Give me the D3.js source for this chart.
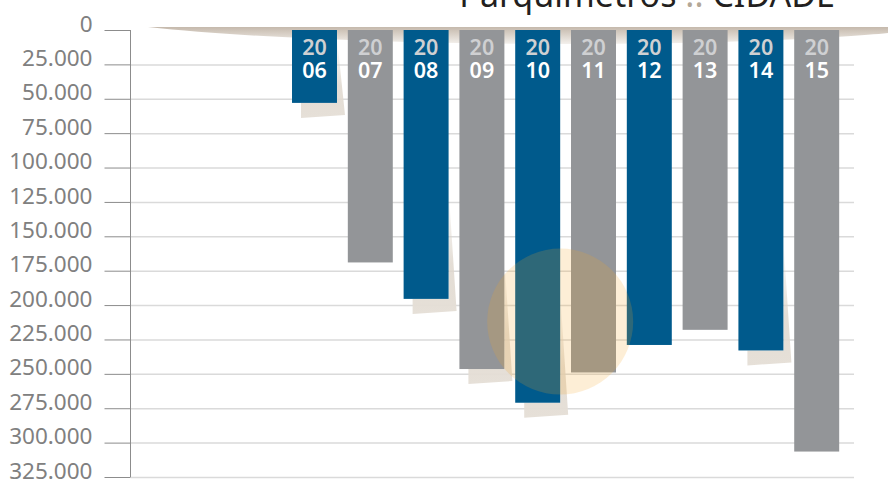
<!DOCTYPE html>
<html>
<head>
<meta charset="utf-8">
<script src="https://cdn.jsdelivr.net/npm/d3@7"></script>
<style>
  body { margin: 0; background: #fff; }
  svg { display: block; font-family: "Noto Sans", sans-serif; }
</style>
</head>
<body>
<div id="vizDiv"></div>
<script>
var width = 888
var height = 480

// data
var years = ["2006", "2007", "2008", "2009", "2010", "2011", "2012", "2013", "2014", "2015"]
var values = [53000, 169000, 195500, 246500, 271000, 249000, 229000, 218000, 233000, 306500]
var shadowYears = ["2006", "2008", "2009", "2010", "2014"]
var tickValues = [0, 25000, 50000, 75000, 100000, 125000, 150000, 175000, 200000, 225000, 250000, 275000, 300000, 325000]
var highlightYear = "2010"
var highlightValue = 212000

var blue = "#005a8c"
var gray = "#939598"

var locale = d3.formatLocale({decimal: ",", thousands: ".", grouping: [3], currency: ["", ""]})
var fmt = locale.format(",")

var svg = d3.select("#vizDiv")
  .append("svg")
  .attr("width", width)
  .attr("height", height)

var defs = svg.append("defs")

var sg = defs.append("linearGradient").attr("id", "barShadow")
  .attr("x1", 0).attr("y1", 0).attr("x2", 0).attr("y2", 1)
sg.append("stop").attr("offset", "0%").attr("stop-color", "#ddd5cb").attr("stop-opacity", 0)
sg.append("stop").attr("offset", "60%").attr("stop-color", "#ddd5cb").attr("stop-opacity", 0.8)
sg.append("stop").attr("offset", "100%").attr("stop-color", "#e6e0d8").attr("stop-opacity", 1)

var tg = defs.append("linearGradient").attr("id", "topShadow")
  .attr("x1", 0).attr("y1", 0).attr("x2", 0).attr("y2", 1)
tg.append("stop").attr("offset", "0%").attr("stop-color", "#c5b9ac")
tg.append("stop").attr("offset", "100%").attr("stop-color", "#f4f1ed")

var y = d3.scaleLinear().domain([0, 325000]).range([30, 477])
var x = d3.scaleBand().domain(years).range([286.6, 844.6]).padding(0.194).paddingOuter(0.097)

var axisX = 130.5
var gridEnd = 854

// gridlines
svg.append("g")
  .attr("transform", "translate(" + axisX + ",0)")
  .call(d3.axisRight(y).tickValues(tickValues.slice(1)).tickSize(gridEnd - axisX).tickFormat(""))
  .call(function(g) { g.select(".domain").remove() })
  .call(function(g) { g.selectAll("line").attr("stroke", "#dadada").attr("stroke-width", 1.5) })

// top curled paper shadow
svg.append("path")
  .attr("d", "M148,27 C250,38 420,45 600,44 C750,43 850,37 888,33 L888,27 Z")
  .attr("fill", "url(#topShadow)")

// y axis
var yAxis = svg.append("g")
  .attr("transform", "translate(" + axisX + ",0)")
  .call(d3.axisLeft(y).tickValues(tickValues).tickSize(26).tickPadding(12).tickFormat(fmt))
yAxis.select(".domain").attr("stroke", "#8c8c8c").attr("d", "M0," + y(0) + "V" + y(325000))
yAxis.selectAll("line").attr("stroke", "#8c8c8c")
yAxis.selectAll("text")
  .attr("fill", "#808080")
  .attr("dy", "0.05em")
  .style("font-size", "22.5px")
  .style("font-family", "'Noto Sans', sans-serif")

// bar shadows
var bars = years.map(function(d, i) { return {year: d, value: values[i], i: i} })

svg.append("g").selectAll("path")
  .data(bars.filter(function(d) { return shadowYears.indexOf(d.year) >= 0 }))
  .join("path")
  .attr("fill", "url(#barShadow)")
  .attr("d", function(d) {
    var x0 = x(d.year), x1 = x0 + x.bandwidth()
    var yb = y(d.value)
    var yt = Math.max(y(0) + 8, yb - 110)
    return "M" + x1 + "," + yt + "L" + (x1 + 8) + "," + (yb + 12) +
      "L" + (x0 + 9) + "," + (yb + 15) + "L" + (x0 + 9) + "," + yb + "L" + x1 + "," + yb + "Z"
  })

// bars
svg.append("g").selectAll("rect")
  .data(bars)
  .join("rect")
  .attr("x", function(d) { return x(d.year) })
  .attr("y", y(0))
  .attr("width", x.bandwidth())
  .attr("height", function(d) { return y(d.value) - y(0) })
  .attr("fill", function(d) { return d.i % 2 == 0 ? blue : gray })

// year labels
var lab = svg.append("g").selectAll("g")
  .data(bars)
  .join("g")
  .attr("transform", function(d) { return "translate(" + (x(d.year) + x.bandwidth() / 2) + ",0)" })
  .attr("text-anchor", "middle")
  .style("font-size", "21.5px")
  .style("font-weight", 600)

lab.append("text")
  .attr("y", y(0) + 25)
  .attr("fill", "#cfd0d2")
  .text(function(d) { return d.year.slice(0, 2) })

lab.append("text")
  .attr("y", y(0) + 48)
  .attr("fill", "#ffffff")
  .text(function(d) { return d.year.slice(2) })

// highlight circle
svg.append("circle")
  .attr("cx", x(highlightYear) + x.bandwidth())
  .attr("cy", y(highlightValue))
  .attr("r", 73)
  .attr("fill", "#f5a623")
  .attr("fill-opacity", 0.19)

// title (cut off at top)
var title = svg.append("text")
  .attr("x", 835)
  .attr("y", 7)
  .attr("text-anchor", "end")
  .style("font-size", "34px")
  .attr("fill", "#231f20")
title.append("tspan").text("Parquímetros ")
title.append("tspan").attr("fill", "#b3a898").text("::")
title.append("tspan").text(" CIDADE")
</script>
</body>
</html>
